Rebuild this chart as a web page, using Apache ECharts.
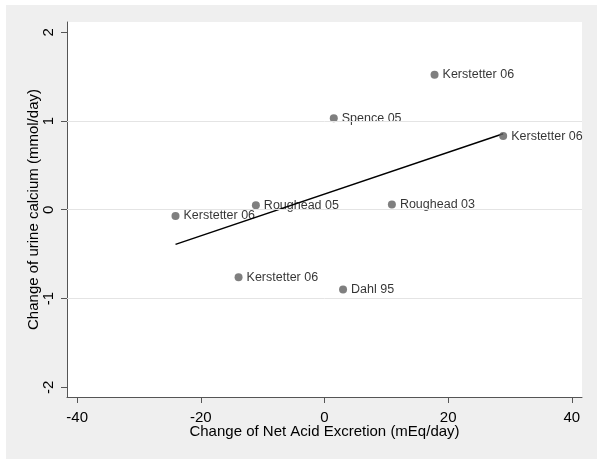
<!DOCTYPE html>
<html>
<head>
<meta charset="utf-8">
<script src="https://cdn.jsdelivr.net/npm/echarts@6/dist/echarts.min.js"></script>
<style>
  html, body { margin: 0; padding: 0; background: #fff; }
  #wrap { position: relative; width: 600px; height: 469px; }
  #panel { position: absolute; left: 6px; top: 5px; width: 591px; height: 454px; background: #efefef; }
  #chart { position: absolute; left: 0; top: 0; width: 600px; height: 469px; }
</style>
</head>
<body>
<div id="wrap"><div id="panel"></div><div id="chart"></div></div>
<script>
// study labels and changes
const studies = ['Kerstetter 06', 'Spence 05', 'Kerstetter 06', 'Roughead 05', 'Kerstetter 06', 'Roughead 03', 'Kerstetter 06', 'Dahl 95'];
const naeChange = [17.8, 1.5, 28.9, -11.1, -24.1, 10.9, -13.9, 3.0];
const caChange = [1.52, 1.03, 0.83, 0.05, -0.07, 0.06, -0.76, -0.9];

// fitted line end points
const fitX = [-24.1, 28.9];
const fitY = [-0.39, 0.855];

const xTicks = [-40, -20, 0, 20, 40];
const yTicks = [-2, -1, 0, 1, 2];
const yGrid = [-1, 0, 1];

const FONT = '"Liberation Sans", Arial, sans-serif';
const AXIS = '#555';

const chart = echarts.init(document.getElementById('chart'), null, { renderer: 'canvas' });

chart.setOption({
  backgroundColor: 'transparent',
  animation: false,
  textStyle: { fontFamily: FONT },
  grid: {
    left: 67, top: 22, width: 515, height: 375,
    show: true, backgroundColor: '#fff', borderWidth: 0,
  },
  xAxis: {
    type: 'value',
    min: -41.65, max: 41.65,
    name: 'Change of Net Acid Excretion (mEq/day)',
    nameLocation: 'middle',
    nameGap: 27,
    nameMoveOverlap: false,
    nameTextStyle: { fontSize: 15, color: '#000', fontFamily: FONT },
    axisLine: { show: true, onZero: false, lineStyle: { color: AXIS, width: 1 } },
    axisTick: { show: true, length: 6, lineStyle: { color: AXIS }, customValues: xTicks },
    axisLabel: { fontSize: 15, color: '#000', margin: 13, customValues: xTicks, fontFamily: FONT },
    splitLine: { show: false },
  },
  yAxis: {
    type: 'value',
    min: -2.11, max: 2.115,
    name: 'Change of urine calcium (mmol/day)',
    nameLocation: 'middle',
    nameGap: 26,
    nameMoveOverlap: false,
    nameTextStyle: { fontSize: 15, color: '#000', fontFamily: FONT },
    axisLine: { show: true, onZero: false, lineStyle: { color: AXIS, width: 1 } },
    axisTick: { show: true, length: 6, lineStyle: { color: AXIS }, customValues: yTicks },
    axisLabel: { fontSize: 15, color: '#000', margin: 11, rotate: 90, customValues: yTicks, fontFamily: FONT },
    splitLine: { show: false },
  },
  series: [
    {
      type: 'line',
      data: [],
      silent: true,
      markLine: {
        silent: true,
        symbol: 'none',
        label: { show: false },
        lineStyle: { color: '#e4e4e4', width: 1, type: 'solid' },
        data: yGrid.map((v) => ({ yAxis: v })),
      },
    },
    {
      type: 'line',
      data: fitX.map((x, i) => [x, fitY[i]]),
      symbol: 'none',
      lineStyle: { color: '#000', width: 1.5 },
      z: 3,
    },
    {
      type: 'scatter',
      data: naeChange.map((x, i) => ({ value: [x, caChange[i]], name: studies[i] })),
      symbolSize: 8,
      itemStyle: { color: '#5f5f5f' },
      label: {
        show: true,
        position: 'right',
        distance: 4,
        formatter: (p) => p.name,
        fontSize: 12.5,
        color: '#000',
        fontFamily: FONT,
      },
      z: 4,
    },
  ],
});
</script>
</body>
</html>
